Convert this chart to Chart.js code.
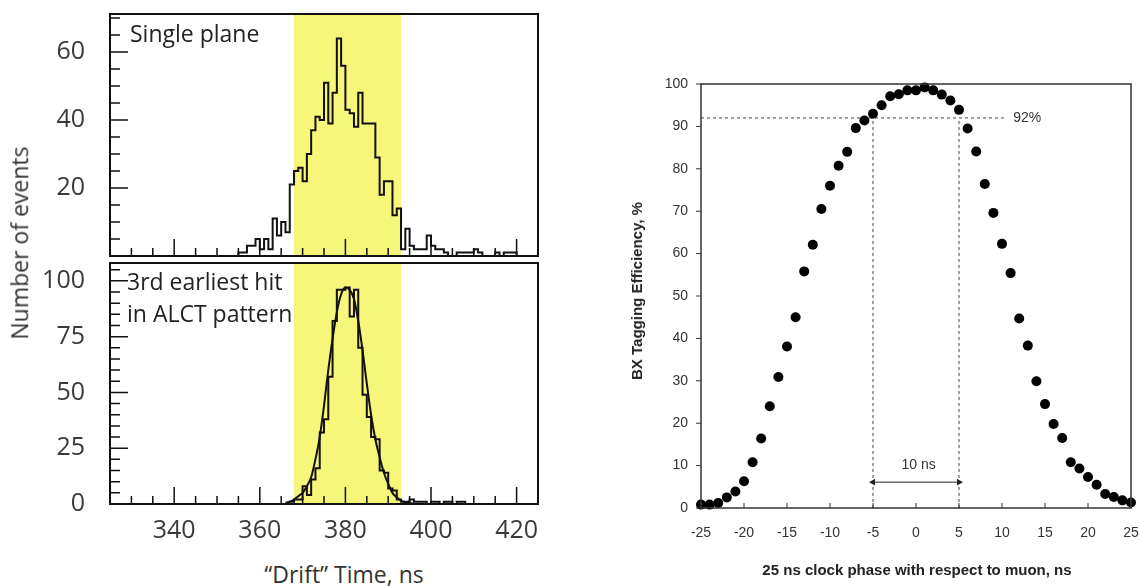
<!DOCTYPE html>
<html>
<head>
<meta charset="utf-8">
<script src="https://cdn.jsdelivr.net/npm/chart.js@4.4.1/dist/chart.umd.min.js"></script>
<style>
  html, body { margin: 0; padding: 0; background: #fff; }
  body { width: 1140px; height: 588px; position: relative; overflow: hidden; }
  canvas { position: absolute; }
  #singlePlane { left: 0; top: 0; }
  #alctPattern { left: 0; top: 258px; }
  #bxEff { left: 560px; top: 0; }
  .title { position: absolute; white-space: nowrap; line-height: 1.2; transform: translate(-50%, -50%); }
  .left { font-family: 'Open Sans', sans-serif; font-size: 23px; color: #333; }
  .right { font-family: 'Liberation Sans', Arial, sans-serif; font-size: 15px; font-weight: bold; color: #222; }
  .rot { transform: translate(-50%, -50%) rotate(-90deg); }
</style>
</head>
<body>
<canvas id="singlePlane" width="560" height="260"></canvas>
<canvas id="alctPattern" width="560" height="300"></canvas>
<canvas id="bxEff" width="580" height="588"></canvas>
<div class="title left rot" style="left:20px; top:243px;">Number of events</div>
<div class="title left" style="left:344px; top:575px;">“Drift” Time, ns</div>
<div class="title right rot" style="left:637px; top:291px;">BX Tagging Efficiency, %</div>
<div class="title right" style="left:917px; top:570px;">25 ns clock phase with respect to muon, ns</div>
<script>
// drift time histograms, 1 ns bins starting at the given edge
const binWidth = 1;
const singleStart = 353;
const singleCounts = [0, 0, 1, 1, 3, 3, 5, 2, 5, 2, 11, 6, 10, 7, 21, 25, 26, 22, 30, 37,
  41, 40, 51, 39, 48, 64, 56, 43, 42, 38, 48, 39, 39, 39, 29, 18, 22, 22, 12, 14,
  2, 8, 3, 2, 2, 2, 6, 3, 2, 2, 1, 0, 0, 1, 1, 1, 1, 2, 1, 0, 0, 0, 1, 0, 1, 1, 1];
const alctStart = 366;
const alctCounts = [0, 1, 2, 2, 8, 4, 11, 16, 32, 38, 57, 82, 96, 96, 97, 84, 96, 70, 49, 39,
  30, 29, 15, 14, 7, 6, 2, 1, 1, 2, 1, 1, 1, 0, 1, 1, 0, 1, 1, 0, 1, 1];
// gaussian fit curve
const fitTimes = [366, 367, 368, 369, 370, 371, 372, 373, 374, 375, 376, 377, 378, 379, 380, 381,
  382, 383, 384, 385, 386, 387, 388, 389, 390, 391, 392, 393, 394, 395, 396];
const fitCounts = [0.5, 1, 2, 3.5, 5, 8, 12, 20, 30, 44, 60, 74, 86, 94, 97, 96,
  92, 82, 69, 54, 40, 29, 21, 14, 9, 5, 3, 1.5, 0.8, 0.4, 0.2];
const gateWindow = [368, 393];
const driftTickLabels = [340, 360, 380, 400, 420];
const singleTickLabels = [20, 40, 60];
const alctTickLabels = [0, 25, 50, 75, 100];

// BX tagging efficiency vs clock phase
const clockPhase = [-25, -24, -23, -22, -21, -20, -19, -18, -17, -16, -15, -14, -13, -12, -11, -10,
  -9, -8, -7, -6, -5, -4, -3, -2, -1, 0, 1, 2, 3, 4, 5, 6, 7, 8, 9, 10, 11, 12, 13, 14, 15,
  16, 17, 18, 19, 20, 21, 22, 23, 24, 25];
const efficiency = [0.8, 0.8, 1.2, 2.5, 3.9, 6.3, 10.8, 16.4, 24.0, 30.9, 38.1, 45.0, 55.8, 62.1, 70.5, 76.0,
  80.7, 84.0, 89.6, 91.4, 93.0, 95.0, 97.1, 97.6, 98.5, 98.5, 99.2, 98.5, 97.5, 96.1, 93.9, 89.5,
  84.1, 76.4, 69.6, 62.3, 55.4, 44.7, 38.3, 29.9, 24.5, 19.8, 16.5, 10.8, 9.3, 7.3, 5.5, 3.3, 2.6, 1.8, 1.3];
const effLevel = 92;
const windowEdges = [-5, 5];
const levelLineEnd = 10.3;
const arrowLevel = 6.1;
const phaseTickLabels = [-25, -20, -15, -10, -5, 0, 5, 10, 15, 20, 25];
const effTickLabels = [0, 10, 20, 30, 40, 50, 60, 70, 80, 90, 100];

function histPoints(start, counts) {
  const pts = [{ x: start, y: 0 }];
  counts.forEach((c, i) => pts.push({ x: start + i * binWidth, y: c }));
  pts.push({ x: start + counts.length * binWidth, y: 0 });
  return pts;
}

// fixed axis size, no label overflow padding
function fixSize(prop, size) {
  return s => {
    s[prop] = size;
    s.paddingTop = s.paddingBottom = s.paddingLeft = s.paddingRight = 0;
  };
}

// frame, inside/outside tick marks, band and free text
const decor = {
  id: 'decor',
  beforeDatasetsDraw(chart, args, o) {
    if (!o.band) return;
    const { ctx, chartArea: a, scales: { x } } = chart;
    const x0 = x.getPixelForValue(o.band[0]), x1 = x.getPixelForValue(o.band[1]);
    ctx.save();
    ctx.fillStyle = o.bandColor;
    ctx.fillRect(x0, a.top, x1 - x0, a.height);
    ctx.restore();
  },
  afterDatasetsDraw(chart, args, o) {
    const { ctx, chartArea: a, scales: { x, y } } = chart;
    ctx.save();
    ctx.strokeStyle = o.color;
    ctx.lineWidth = o.tickWidth;
    ctx.beginPath();
    const xt = o.xTicks, yt = o.yTicks;
    for (let v = xt.from; v <= xt.to; v += xt.step) {
      const px = x.getPixelForValue(v);
      const len = v % xt.major === 0 ? xt.majorLen : xt.minorLen;
      ctx.moveTo(px, a.bottom);
      ctx.lineTo(px, a.bottom - len * xt.dir);
    }
    for (let v = yt.from; v <= yt.to; v += yt.step) {
      const py = y.getPixelForValue(v);
      const len = v % yt.major === 0 ? yt.majorLen : yt.minorLen;
      ctx.moveTo(a.left, py);
      ctx.lineTo(a.left + len * yt.dir, py);
    }
    ctx.stroke();
    ctx.lineWidth = o.frameWidth;
    ctx.strokeRect(a.left, a.top, a.width, a.height);
    (o.texts || []).forEach(t => {
      ctx.font = t.font;
      ctx.fillStyle = t.color;
      ctx.textAlign = t.align || 'left';
      ctx.textBaseline = t.baseline || 'alphabetic';
      const px = t.dataX !== undefined ? x.getPixelForValue(t.dataX) : a.left + t.dx;
      const py = t.dataY !== undefined ? y.getPixelForValue(t.dataY) : a.top + t.dy;
      ctx.fillText(t.text, px, py);
    });
    ctx.restore();
  }
};

const noGrid = { display: false, drawTicks: false };
const leftTickFont = { family: 'Open Sans', size: 25 };
const labelFont = '23px "Open Sans"';

function driftChart(id, cfg) {
  return new Chart(document.getElementById(id), {
    type: 'line',
    data: { datasets: cfg.datasets },
    options: {
      responsive: false, animation: false, events: [],
      layout: { padding: { left: 0, right: 22, top: cfg.padTop, bottom: 0 } },
      plugins: {
        legend: { display: false }, tooltip: { enabled: false },
        decor: {
          band: gateWindow, bandColor: '#f6f67a', color: '#111', tickWidth: 1.5, frameWidth: 2,
          xTicks: { from: 330, to: 420, step: 5, major: 20, majorLen: 17, minorLen: 8, dir: 1 },
          yTicks: { from: 0, to: cfg.yMax, step: 5, major: cfg.yMajor, majorLen: 18, minorLen: 10, dir: 1 },
          texts: cfg.texts
        }
      },
      scales: {
        x: {
          type: 'linear', min: 325, max: 425,
          grid: noGrid, border: { display: false },
          ticks: { display: cfg.xLabels, font: leftTickFont, color: '#3a3a3a', padding: 12, maxRotation: 0 },
          afterBuildTicks: s => { s.ticks = driftTickLabels.map(v => ({ value: v })); },
          afterFit: fixSize('height', cfg.xHeight)
        },
        y: {
          min: 0, max: cfg.yMax,
          grid: noGrid, border: { display: false },
          ticks: { font: leftTickFont, color: '#3a3a3a', padding: 25 },
          afterBuildTicks: s => { s.ticks = cfg.yLabels.map(v => ({ value: v })); },
          afterFit: fixSize('width', 110)
        }
      }
    },
    plugins: [decor]
  });
}

const histStyle = { borderColor: '#111', borderWidth: 2, pointRadius: 0, stepped: 'before', fill: false };

driftChart('singlePlane', {
  padTop: 14, xHeight: 4, xLabels: false, yMax: 71.2, yMajor: 20, yLabels: singleTickLabels,
  datasets: [Object.assign({ data: histPoints(singleStart, singleCounts) }, histStyle)],
  texts: [{ text: 'Single plane', dx: 20, dy: 28, font: labelFont, color: '#222' }]
});

driftChart('alctPattern', {
  padTop: 5, xHeight: 54, xLabels: true, yMax: 108, yMajor: 25, yLabels: alctTickLabels,
  datasets: [
    Object.assign({ data: histPoints(alctStart, alctCounts) }, histStyle),
    { data: fitTimes.map((t, i) => ({ x: t, y: fitCounts[i] })), borderColor: '#111', borderWidth: 2,
      pointRadius: 0, cubicInterpolationMode: 'monotone', fill: false }
  ],
  texts: [
    { text: '3rd earliest hit', dx: 17, dy: 27, font: labelFont, color: '#222' },
    { text: 'in ALCT pattern', dx: 17, dy: 59, font: labelFont, color: '#222' }
  ]
});

const dashStyle = { borderColor: '#444', borderWidth: 1, borderDash: [3, 3], pointRadius: 0, fill: false, order: 2 };
const rightTickFont = { family: 'Liberation Sans', size: 14 };

new Chart(document.getElementById('bxEff'), {
  type: 'line',
  data: {
    datasets: [
      { data: clockPhase.map((p, i) => ({ x: p, y: efficiency[i] })), showLine: false,
        pointRadius: 5, pointBackgroundColor: '#000', pointBorderWidth: 0, clip: false, order: 0 },
      Object.assign({ data: [{ x: clockPhase[0], y: effLevel }, { x: levelLineEnd, y: effLevel }] }, dashStyle),
      Object.assign({ data: [{ x: windowEdges[0], y: 0 }, { x: windowEdges[0], y: effLevel }] }, dashStyle),
      Object.assign({ data: [{ x: windowEdges[1], y: 0 }, { x: windowEdges[1], y: effLevel }] }, dashStyle),
      { data: [{ x: windowEdges[0], y: arrowLevel }, { x: windowEdges[1], y: arrowLevel }],
        borderColor: '#222', borderWidth: 1, pointStyle: 'triangle', pointRadius: 4,
        pointRotation: [-90, 90], pointBackgroundColor: '#222', pointBorderWidth: 0, order: 1 }
    ]
  },
  options: {
    responsive: false, animation: false, events: [],
    layout: { padding: { left: 0, right: 9, top: 84, bottom: 0 } },
    plugins: {
      legend: { display: false }, tooltip: { enabled: false },
      decor: {
        color: '#333', tickWidth: 1, frameWidth: 1.5,
        xTicks: { from: -25, to: 25, step: 5, major: 5, majorLen: 5, minorLen: 5, dir: 1 },
        yTicks: { from: 0, to: 100, step: 10, major: 10, majorLen: 5, minorLen: 5, dir: -1 },
        texts: [
          { text: effLevel + '%', dataX: 11.3, dataY: effLevel, font: '14px "Liberation Sans"', color: '#333', baseline: 'middle' },
          { text: '10 ns', dataX: 0.3, dataY: 10.1, font: '14px "Liberation Sans"', color: '#333', align: 'center', baseline: 'middle' }
        ]
      }
    },
    scales: {
      x: {
        type: 'linear', min: -25, max: 25,
        grid: noGrid, border: { display: false },
        ticks: { font: rightTickFont, color: '#333', padding: 17, maxRotation: 0 },
        afterBuildTicks: s => { s.ticks = phaseTickLabels.map(v => ({ value: v })); },
        afterFit: fixSize('height', 80)
      },
      y: {
        min: 0, max: 100,
        grid: noGrid, border: { display: false },
        ticks: { font: rightTickFont, color: '#333', padding: 13 },
        afterBuildTicks: s => { s.ticks = effTickLabels.map(v => ({ value: v })); },
        afterFit: fixSize('width', 141)
      }
    }
  },
  plugins: [decor]
});
</script>
</body>
</html>
